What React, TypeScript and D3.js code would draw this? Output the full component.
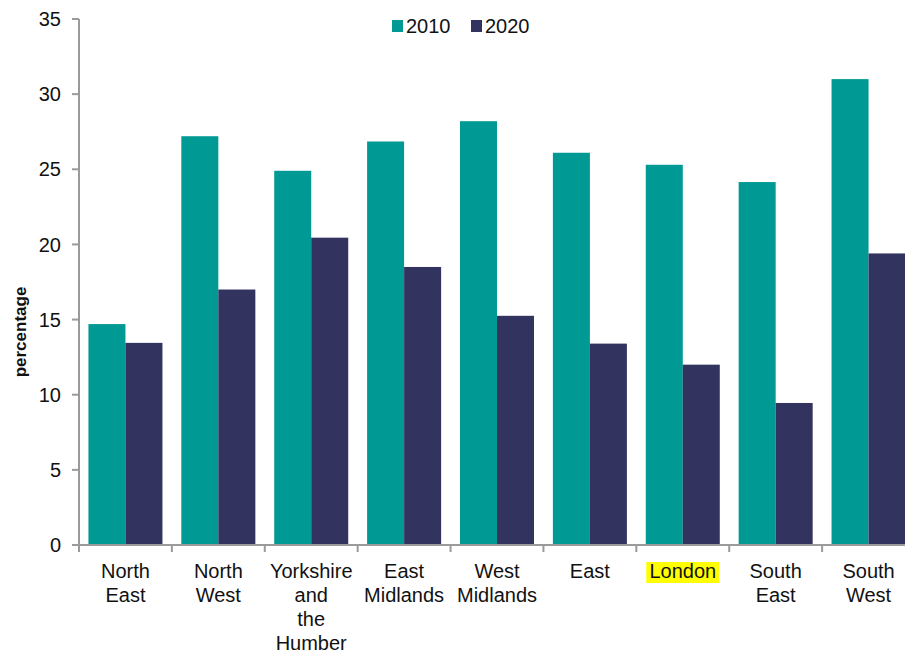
import React from "react";
import * as d3 from "d3";

const regions = [
  ["North", "East"],
  ["North", "West"],
  ["Yorkshire", "and", "the", "Humber"],
  ["East", "Midlands"],
  ["West", "Midlands"],
  ["East"],
  ["London"],
  ["South", "East"],
  ["South", "West"],
];
const values2010 = [14.7, 27.2, 24.9, 26.85, 28.2, 26.1, 25.3, 24.15, 31.0];
const values2020 = [13.45, 17.0, 20.45, 18.5, 15.25, 13.4, 12.0, 9.45, 19.4];
const seriesNames = ["2010", "2020"];
const yTicks = [0, 5, 10, 15, 20, 25, 30, 35];

const colors = ["#009994", "#333360"];
const W = 905, H = 651;
const left = 79, right = 915, top = 19, bottom = 545;
const font = "Liberation Sans, Arial, sans-serif";

export default function App() {
  const keys = regions.map((_, i) => String(i));
  const x = d3.scaleBand<string>().domain(keys).range([left, right]).paddingInner(0).paddingOuter(0);
  const x1 = d3.scaleBand<string>().domain(seriesNames).range([0, x.bandwidth()]).paddingInner(0).paddingOuter(0.255);
  const y = d3.scaleLinear().domain([0, 35]).range([bottom, top]);
  const data = [values2010, values2020];
  const axisColor = "#9a9a9a";
  const boundaries = d3.range(regions.length + 1).map((i) => left + i * x.step());

  return (
    <svg width={W} height={H} style={{ position: "absolute", left: 0, top: 0, background: "#fff" }} fontFamily={font}>
      {/* bars */}
      {keys.map((k, i) => (
        <g key={k}>
          {seriesNames.map((s, j) => (
            <rect
              key={s}
              x={(x(k) as number) + (x1(s) as number)}
              y={y(data[j][i])}
              width={x1.bandwidth()}
              height={bottom - y(data[j][i])}
              fill={colors[j]}
            />
          ))}
        </g>
      ))}
      {/* y axis */}
      <line x1={left} x2={left} y1={top} y2={bottom} stroke={axisColor} strokeWidth={2} />
      {yTicks.map((t) => (
        <g key={t}>
          <line x1={left - 7} x2={left} y1={y(t)} y2={y(t)} stroke={axisColor} strokeWidth={2} />
          <text x={left - 18} y={y(t)} dy="0.36em" textAnchor="end" fontSize={20} fill="#111">
            {t}
          </text>
        </g>
      ))}
      {/* x axis */}
      <line x1={left - 7} x2={W} y1={bottom} y2={bottom} stroke={axisColor} strokeWidth={2} />
      {boundaries.map((b, i) => (
        <line key={i} x1={b} x2={b} y1={bottom} y2={bottom + 7} stroke={axisColor} strokeWidth={2} />
      ))}
      {regions.map((lines, i) => {
        const cx = (x(keys[i]) as number) + x.bandwidth() / 2;
        const isLondon = lines[0] === "London";
        return (
          <g key={i}>
            {isLondon && <rect x={cx - 36.5} y={562} width={73} height={21} fill="#ffff00" />}
            {lines.map((l, li) => (
              <text key={li} x={cx} y={578 + li * 24} textAnchor="middle" fontSize={20} fill="#111">
                {l}
              </text>
            ))}
          </g>
        );
      })}
      {/* y title */}
      <text transform={`translate(26,332) rotate(-90)`} textAnchor="middle" fontSize={17} fontWeight="bold" fill="#111">
        percentage
      </text>
      {/* legend */}
      {seriesNames.map((s, j) => (
        <g key={s} transform={`translate(${392 + j * 79},20)`}>
          <rect x={0} y={0} width={11} height={12} fill={colors[j]} />
          <text x={14} y={13} fontSize={20} fill="#111">
            {s}
          </text>
        </g>
      ))}
    </svg>
  );
}
